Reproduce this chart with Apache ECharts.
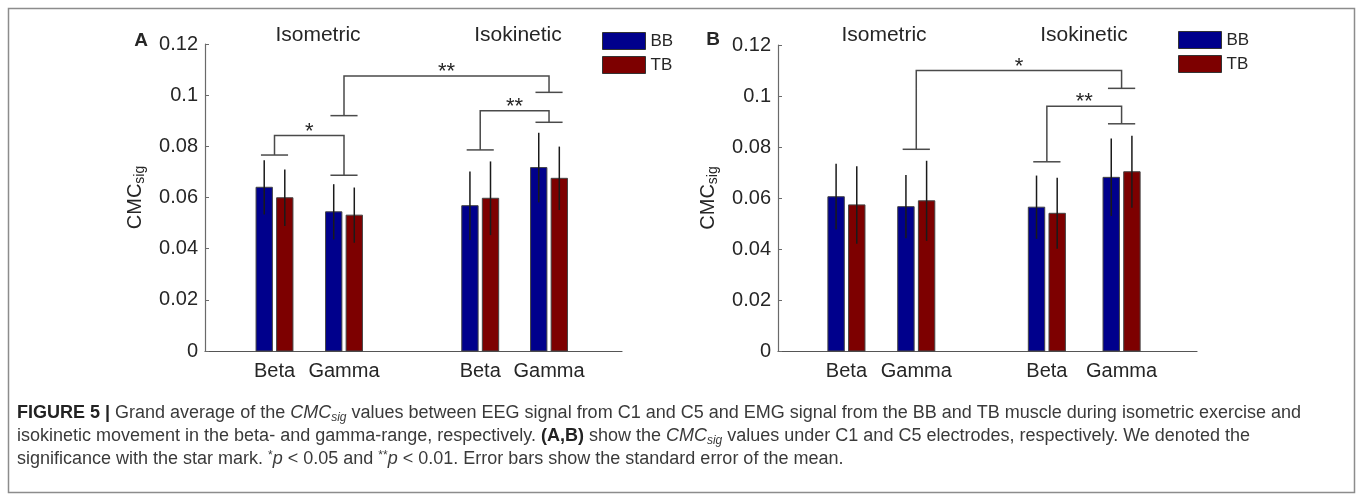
<!DOCTYPE html>
<html>
<head>
<meta charset="utf-8">
<script src="https://cdn.jsdelivr.net/npm/echarts@6/dist/echarts.min.js"></script>
<style>
html,body{margin:0;padding:0;background:#fff;}
#c{width:1358px;height:494px;}
</style>
</head>
<body>
<div id="c"></div>
<script>
// ---------- data ----------
const categories = ['Beta', 'Gamma', 'Beta', 'Gamma'];
const conditions = ['Isometric', 'Isokinetic'];
const seriesNames = ['BB', 'TB'];
const panelLetters = ['A', 'B'];

// group positions on the x value axis (0..6)
const xPosA = [1.0, 2.0, 3.96, 4.95];
const xPosB = [0.98, 1.98, 3.85, 4.92];

// Panel A (C1)
const bbMeanA = [0.0640, 0.0544, 0.0568, 0.0717];
const bbSeA   = [0.0106, 0.0108, 0.0134, 0.0136];
const tbMeanA = [0.0599, 0.0531, 0.0597, 0.0675];
const tbSeA   = [0.0110, 0.0108, 0.0144, 0.0124];

// Panel B (C5)
const bbMeanB = [0.0605, 0.0566, 0.0564, 0.0681];
const bbSeB   = [0.0129, 0.0124, 0.0124, 0.0152];
const tbMeanB = [0.0573, 0.0589, 0.0540, 0.0703];
const tbSeB   = [0.0152, 0.0157, 0.0139, 0.0141];

// significance brackets: group index pairs, bracket top, leg ends, labels
const sigPairsA = [[0, 1], [1, 3], [2, 3]];
const sigTopA   = [0.0842, 0.1075, 0.0939];
const sigLeftA  = [0.0766, 0.0920, 0.0786];
const sigRightA = [0.0687, 0.1011, 0.0894];
const sigLabelA = ['*', '**', '**'];

const sigPairsB = [[1, 3], [2, 3]];
const sigTopB   = [0.1100, 0.0960];
const sigLeftB  = [0.0791, 0.0742];
const sigRightB = [0.1030, 0.0891];
const sigLabelB = ['*', '**'];

const yMin = 0, yMax = 0.12, yStep = 0.02;

// ---------- styles ----------
const FONT = 'Liberation Sans';
const TXT = '#262626';
const COLORS = ['#00008c', '#7d0000'];
const BW = 0.235;   // bar width (x units)
const OFF = 0.148;  // bar offset from group centre (x units)
const TH = 0.195;   // bracket tick half width (x units)

function barSeries(name, color, gi, xs, means, ses, side) {
  return {
    type: 'custom', name: name, xAxisIndex: gi, yAxisIndex: gi,
    itemStyle: { color: color },
    encode: { x: 0, y: 1 },
    data: xs.map((x, i) => [x, means[i], ses[i]]),
    renderItem: function (params, api) {
      const x = api.value(0) + side * OFF, y = api.value(1), e = api.value(2);
      const tl = api.coord([x - BW / 2, y]);
      const br = api.coord([x + BW / 2, 0]);
      const et = api.coord([x, y + e]);
      const eb = api.coord([x, y - e]);
      return {
        type: 'group', children: [
          { type: 'rect', shape: { x: tl[0], y: tl[1], width: br[0] - tl[0], height: br[1] - tl[1] },
            style: { fill: color, stroke: '#444', lineWidth: 1 } },
          { type: 'line', shape: { x1: et[0], y1: et[1], x2: eb[0], y2: eb[1] },
            style: { stroke: '#1a1a1a', lineWidth: 1.5 } }
        ]
      };
    }
  };
}

function labelSeries(gi, xs) {
  return {
    type: 'custom', xAxisIndex: gi, yAxisIndex: gi, silent: true,
    encode: { x: 0, y: 1 },
    data: xs.map(x => [x, 0]),
    renderItem: function (params, api) {
      const p = api.coord([api.value(0), 0]);
      return { type: 'text', x: p[0], y: p[1] + 20,
        style: { text: categories[params.dataIndex], align: 'center', verticalAlign: 'middle',
          fontSize: 20, fontFamily: FONT, fill: TXT } };
    }
  };
}

function sigSeries(gi, xs, pairs, tops, lefts, rights, labels) {
  return {
    type: 'custom', xAxisIndex: gi, yAxisIndex: gi, silent: true,
    encode: { x: [0, 1], y: 2 },
    data: pairs.map((p, i) => [xs[p[0]], xs[p[1]], tops[i], lefts[i], rights[i]]),
    renderItem: function (params, api) {
      const xl = api.value(0), xr = api.value(1), yt = api.value(2), yl = api.value(3), yr = api.value(4);
      const a = api.coord([xl, yl]), b = api.coord([xl, yt]), c = api.coord([xr, yt]), d = api.coord([xr, yr]);
      const t1 = api.coord([xl - TH, yl]), t2 = api.coord([xl + TH, yl]);
      const t3 = api.coord([xr - TH, yr]), t4 = api.coord([xr + TH, yr]);
      const st = { stroke: '#4a4a4a', lineWidth: 1.5, fill: null };
      return {
        type: 'group', children: [
          { type: 'polyline', shape: { points: [a, b, c, d] }, style: st },
          { type: 'line', shape: { x1: t1[0], y1: t1[1], x2: t2[0], y2: t2[1] }, style: st },
          { type: 'line', shape: { x1: t3[0], y1: t3[1], x2: t4[0], y2: t4[1] }, style: st },
          { type: 'text', x: (b[0] + c[0]) / 2, y: b[1] - 4,
            style: { text: labels[params.dataIndex], align: 'center', verticalAlign: 'middle',
              fontSize: 22, fontFamily: FONT, fill: TXT } }
        ]
      };
    }
  };
}

function yAxis(gi) {
  return {
    type: 'value', gridIndex: gi, min: yMin, max: yMax, interval: yStep,
    name: '{a|CMC}{s|sig}', nameLocation: 'middle', nameGap: 58, nameRotate: 90,
    nameTextStyle: {
      color: TXT, fontFamily: FONT, fontSize: 20,
      rich: { a: { fontSize: 20, fontFamily: FONT, color: TXT, padding: [0, 0, 0, 0] },
              s: { fontSize: 14, fontFamily: FONT, color: TXT, padding: [10, 0, 0, 0] } }
    },
    axisLine: { show: true, lineStyle: { color: '#6a6a6a', width: 1.2 } },
    axisTick: { show: true, inside: true, length: 4, lineStyle: { color: '#6a6a6a' } },
    splitLine: { show: false },
    axisLabel: { color: TXT, fontFamily: FONT, fontSize: 20, margin: 7,
      formatter: v => (Math.round(v * 100) / 100).toString() }
  };
}
function xAxis(gi) {
  return {
    type: 'value', gridIndex: gi, min: 0, max: 6,
    axisLine: { show: true, onZero: false, lineStyle: { color: '#555', width: 1.2 } },
    axisTick: { show: false }, axisLabel: { show: false }, splitLine: { show: false }
  };
}

function legend(left, top) {
  return {
    data: seriesNames, orient: 'vertical', left: left, top: top, padding: 0,
    itemWidth: 43, itemHeight: 17, itemGap: 6, icon: 'rect', selectedMode: false,
    itemStyle: { borderColor: '#333', borderWidth: 1 },
    textStyle: { color: TXT, fontFamily: FONT, fontSize: 17, padding: [0, 0, 0, 0] }
  };
}

function txt(x, y, text, size, weight) {
  return { type: 'text', x: x, y: y, silent: true,
    style: { text: text, align: 'center', verticalAlign: 'middle', fontSize: size,
      fontWeight: weight || 'normal', fontFamily: FONT, fill: TXT } };
}

const CAP = 18;
const capRich = {
  b: { fontWeight: 'bold', fontSize: CAP, fontFamily: FONT, fill: '#222', lineHeight: 22 },
  i: { fontStyle: 'italic', fontSize: CAP, fontFamily: FONT, fill: '#3a3a3a', lineHeight: 22 },
  is: { fontStyle: 'italic', fontSize: 12, fontFamily: FONT, fill: '#3a3a3a', lineHeight: 12, padding: [9, 0, 0, 0] },
  sup: { fontSize: 12, fontFamily: FONT, fill: '#3a3a3a', lineHeight: 12, padding: [0, 0, 7, 0] }
};
const captionLines = [
  '{b|FIGURE 5 |} Grand average of the {i|CMC}{is|sig} values between EEG signal from C1 and C5 and EMG signal from the BB and TB muscle during isometric exercise and',
  'isokinetic movement in the beta- and gamma-range, respectively. {b|(A,B)} show the {i|CMC}{is|sig} values under C1 and C5 electrodes, respectively. We denoted the',
  'significance with the star mark. {sup|*}{i|p} < 0.05 and {sup|**}{i|p} < 0.01. Error bars show the standard error of the mean.'
];
function capText(y, t) {
  return { type: 'text', x: 17, y: y, silent: true,
    style: { text: t, rich: capRich, align: 'left', verticalAlign: 'middle',
      fontSize: CAP, fontFamily: FONT, fill: '#3a3a3a', lineHeight: 22 } };
}

const chart = echarts.init(document.getElementById('c'), null, { renderer: 'canvas' });
chart.setOption({
  backgroundColor: '#fff',
  animation: false,
  grid: [
    { left: 205, top: 44, width: 417, height: 307 },
    { left: 778, top: 45, width: 419, height: 306 }
  ],
  xAxis: [xAxis(0), xAxis(1)],
  yAxis: [yAxis(0), yAxis(1)],
  legend: [legend(602, 32), legend(1178, 31)],
  series: [
    barSeries(seriesNames[0], COLORS[0], 0, xPosA, bbMeanA, bbSeA, -1),
    barSeries(seriesNames[1], COLORS[1], 0, xPosA, tbMeanA, tbSeA, 1),
    barSeries(seriesNames[0], COLORS[0], 1, xPosB, bbMeanB, bbSeB, -1),
    barSeries(seriesNames[1], COLORS[1], 1, xPosB, tbMeanB, tbSeB, 1),
    labelSeries(0, xPosA), labelSeries(1, xPosB),
    sigSeries(0, xPosA, sigPairsA, sigTopA, sigLeftA, sigRightA, sigLabelA),
    sigSeries(1, xPosB, sigPairsB, sigTopB, sigLeftB, sigRightB, sigLabelB)
  ],
  graphic: [
    { type: 'rect', silent: true, shape: { x: 8.5, y: 8.5, width: 1346, height: 484 },
      style: { fill: null, stroke: '#8c8c8c', lineWidth: 1.5 } },
    txt(141, 41, panelLetters[0], 19, 'bold'),
    txt(713, 40, panelLetters[1], 19, 'bold'),
    txt(318, 35, conditions[0], 21),
    txt(518, 35, conditions[1], 21),
    txt(884, 35, conditions[0], 21),
    txt(1084, 35, conditions[1], 21),
    capText(413, captionLines[0]),
    capText(436, captionLines[1]),
    capText(459, captionLines[2])
  ]
});
</script>
</body>
</html>
